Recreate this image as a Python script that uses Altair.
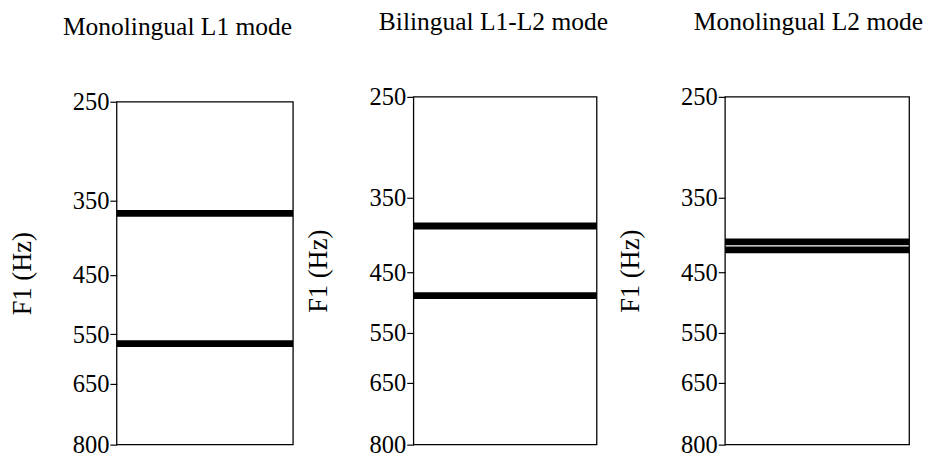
import altair as alt
import pandas as pd

# Data
modes = ["Monolingual L1 mode", "Bilingual L1-L2 mode", "Monolingual L2 mode"]
f1_values = [
    [365, 568],   # Monolingual L1 mode
    [385, 486],   # Bilingual L1-L2 mode
    [406, 417],   # Monolingual L2 mode
]
tick_values = [250, 350, 450, 550, 650, 800]
y_domain = [250, 800]

FONT = "Liberation Serif"

panel_widths = [180, 187, 188]
panel_height = 355
panel_tops = [5, 0, 0]
title_dx = [-28, -12, -9]
FRAME_W = 1.3


def panel(i):
    df = pd.DataFrame({"mode": modes[i], "F1": f1_values[i]})
    frame_df = pd.DataFrame({"lo": [y_domain[0]], "hi": [y_domain[1]]})
    yscale = alt.Scale(
        type="log", domain=y_domain, range=[panel_tops[i], panel_height], nice=False, zero=False
    )
    left_axis = alt.Axis(
        title="F1 (Hz)",
        orient="left",
        values=tick_values,
        format="d",
        grid=False,
        domain=False,
        tickColor="black",
        tickWidth=1.2,
        tickSize=7,
        labelPadding=1,
        labelFont=FONT,
        labelFontSize=25,
        labelColor="black",
        titleFont=FONT,
        titleFontSize=27,
        titleFontWeight="normal",
        titleColor="black",
        titlePadding=37,
        labelOverlap=False,
    )
    lines = (
        alt.Chart(df)
        .mark_rule(color="black", strokeWidth=7)
        .encode(y=alt.Y("F1:Q", scale=yscale, axis=left_axis))
    )
    frame = (
        alt.Chart(frame_df)
        .mark_rect(fill=None, stroke="black", strokeWidth=FRAME_W)
        .encode(
            y=alt.Y("lo:Q", scale=yscale, axis=left_axis),
            y2="hi:Q",
            x=alt.value(0),
            x2=alt.value(panel_widths[i]),
        )
    )
    return alt.layer(lines, frame).properties(
        width=panel_widths[i],
        height=panel_height,
        title=alt.TitleParams(
            text=modes[i],
            font=FONT,
            fontSize=26,
            fontWeight="normal",
            color="black",
            anchor="middle",
            frame="group",
            offset=51,
            dx=title_dx[i],
        ),
    )


chart = (
    alt.hconcat(panel(0), panel(1), panel(2), spacing=8)
    .properties(padding={"left": 0, "top": -3, "right": 0, "bottom": 0})
    .configure(background="white")
    .configure_view(stroke=None)
)

chart.save("out.html", embed_options={"renderer": "svg", "actions": False})
